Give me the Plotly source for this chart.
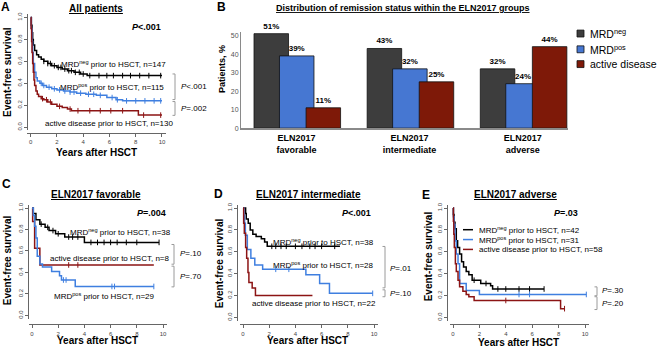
import plotly.graph_objects as go

W, H = 659, 350
FONT = "Liberation Sans, Arial, sans-serif"
C_NEG = "#000000"
C_POS = "#3f7fe0"
C_ACT = "#8c1414"
BAR_NEG = "#3d3d3d"
BAR_POS = "#4677d2"
BAR_ACT = "#7e1908"

# ---------------- data ----------------
# Panel A: all patients
A_neg_t = [0, 0.05, 0.1, 0.15, 0.2, 0.3, 0.45, 0.6, 0.8, 1.0, 1.3, 1.6, 2.0, 2.4, 2.8, 3.3, 3.8, 4.3, 10.0]
A_neg_s = [1.0, 0.93, 0.86, 0.80, 0.75, 0.70, 0.66, 0.64, 0.62, 0.60, 0.58, 0.56, 0.545, 0.53, 0.515, 0.50, 0.485, 0.47, 0.47]
A_neg_c = [1.0, 1.3, 1.5, 1.8, 2.1, 2.3, 2.6, 2.9, 3.1, 3.4, 3.7, 4.0, 4.5, 5.2, 5.8, 6.3, 7.0, 7.6, 8.3, 9.0, 9.9]
A_pos_t = [0, 0.05, 0.1, 0.15, 0.2, 0.3, 0.4, 0.5, 0.7, 0.9, 1.2, 1.6, 2.0, 2.5, 3.0, 3.5, 4.2, 5.0, 5.8, 6.5, 7.0, 10.0]
A_pos_s = [1.0, 0.90, 0.78, 0.68, 0.58, 0.50, 0.45, 0.42, 0.40, 0.38, 0.365, 0.35, 0.34, 0.33, 0.32, 0.31, 0.30, 0.29, 0.27, 0.25, 0.24, 0.24]
A_pos_c = [0.8, 1.0, 1.4, 1.8, 2.2, 2.6, 3.0, 3.3, 3.8, 4.4, 4.8, 5.3, 6.2, 6.6, 7.3, 8.0, 8.7, 9.4, 9.9]
A_act_t = [0, 0.03, 0.07, 0.1, 0.15, 0.2, 0.25, 0.3, 0.4, 0.5, 0.6, 0.8, 1.0, 1.3, 1.6, 2.0, 2.4, 2.8, 3.1, 8.2, 10.0]
A_act_s = [1.0, 0.90, 0.78, 0.68, 0.58, 0.50, 0.43, 0.38, 0.33, 0.30, 0.28, 0.26, 0.25, 0.23, 0.21, 0.19, 0.18, 0.165, 0.15, 0.11, 0.11]
A_act_c = [0.9, 1.2, 1.5, 2.2, 3.0, 3.6, 4.5, 5.3, 6.1, 7.0, 8.6, 9.9]

# Panel B: distribution of remission status
B_categories = ["ELN2017<br>favorable", "ELN2017<br>intermediate", "ELN2017<br>adverse"]
B_mrd_neg = [51, 43, 32]
B_mrd_pos = [39, 32, 24]
B_active = [11, 25, 44]
B_yticks = [0, 10, 20, 30, 40, 50]

# Panel C: ELN2017 favorable
C_neg_t = [0, 0.1, 0.3, 0.6, 1.0, 1.3, 1.8, 2.5, 4.0, 9.7]
C_neg_s = [1.0, 0.95, 0.89, 0.85, 0.82, 0.79, 0.76, 0.73, 0.68, 0.68]
C_neg_c = [0.7, 1.2, 1.6, 2.0, 2.8, 3.1, 3.5, 4.5, 5.0, 5.5, 6.0, 6.5, 7.2, 8.0, 9.7]
C_act_t = [0, 0.05, 0.2, 0.6, 9.3]
C_act_s = [1.0, 0.875, 0.625, 0.47, 0.47]
C_act_c = [2.8, 3.5]
C_pos_t = [0, 0.1, 0.2, 0.3, 0.4, 0.6, 0.8, 1.5, 2.1, 2.25, 3.3, 9.3]
C_pos_s = [1.0, 0.93, 0.83, 0.72, 0.55, 0.48, 0.45, 0.41, 0.37, 0.33, 0.27, 0.27]
C_pos_c = [2.4, 2.6, 6.1, 6.3, 9.3]

# Panel D: ELN2017 intermediate
D_neg_t = [0, 0.2, 0.25, 0.4, 0.55, 0.75, 1.0, 1.4, 1.65, 1.85, 7.4]
D_neg_s = [1.0, 0.95, 0.90, 0.86, 0.80, 0.76, 0.74, 0.72, 0.69, 0.65, 0.65]
D_neg_c = [2.2, 2.5, 2.9, 3.3, 4.0, 4.5, 5.1, 5.5, 6.0, 7.0]
D_pos_t = [0, 0.08, 0.12, 0.18, 0.33, 0.6, 0.9, 1.5, 4.8, 5.85, 6.6, 9.9]
D_pos_s = [1.0, 0.93, 0.86, 0.75, 0.62, 0.54, 0.48, 0.44, 0.39, 0.31, 0.22, 0.22]
D_pos_c = [2.5, 3.5, 9.9]
D_act_t = [0, 0.05, 0.1, 0.2, 0.28, 0.38, 0.45, 0.7, 0.95, 5.3]
D_act_s = [1.0, 0.86, 0.77, 0.64, 0.54, 0.41, 0.32, 0.27, 0.20, 0.20]
D_act_c = []

# Panel E: ELN2017 adverse
E_neg_t = [0, 0.03, 0.08, 0.15, 0.25, 0.35, 0.5, 0.65, 0.8, 1.0, 1.2, 1.45, 2.1, 2.85, 3.0, 6.9]
E_neg_s = [1.0, 0.94, 0.87, 0.81, 0.70, 0.64, 0.58, 0.51, 0.46, 0.42, 0.39, 0.34, 0.31, 0.29, 0.26, 0.26]
E_neg_c = [1.6, 2.5, 3.4, 4.0, 5.0, 5.8, 6.9]
E_pos_t = [0, 0.03, 0.08, 0.15, 0.25, 0.38, 0.5, 1.0, 2.0, 10.1]
E_pos_s = [1.0, 0.92, 0.85, 0.70, 0.58, 0.49, 0.31, 0.245, 0.21, 0.21]
E_pos_c = [5.0, 5.8, 10.1]
E_act_t = [0, 0.03, 0.06, 0.1, 0.18, 0.25, 0.38, 0.5, 0.75, 1.0, 1.2, 1.6, 8.15, 8.45]
E_act_s = [1.0, 0.88, 0.76, 0.64, 0.49, 0.42, 0.34, 0.28, 0.24, 0.21, 0.19, 0.155, 0.08, 0.08]
E_act_c = [4.0, 8.45]

KM_xticks = [0, 2, 4, 6, 8, 10]
KM_yticks = [0.0, 0.2, 0.4, 0.6, 0.8, 1.0]
KM_yticklabels = ["0.0", "0.2", "0.4", "0.6", "0.8", "1.0"]


# ---------------- helpers ----------------
def fx(p):
    return p / W


def fy(p):
    return 1 - p / H


def step_at(t, s, v):
    val = s[0]
    for ti, si in zip(t, s):
        if ti <= v:
            val = si
    return val


fig = go.Figure()
layout = {}
annotations = []
shapes = []


def ann(x, y, text, size=8, xanchor="center", color="#000", textangle=0):
    annotations.append(dict(x=fx(x), y=fy(y), xref="paper", yref="paper", text=text,
                            showarrow=False, xanchor=xanchor, yanchor="middle",
                            textangle=textangle,
                            font=dict(size=size, color=color, family=FONT)))


def bracket(x, y_top, y_bot, w=2.5):
    shapes.append(dict(type="path", xref="paper", yref="paper",
                       path=f"M {fx(x-w)},{fy(y_top)} L {fx(x)},{fy(y_top)} L {fx(x)},{fy(y_bot)} L {fx(x-w)},{fy(y_bot)}",
                       line=dict(color="#9a9a9a", width=1)))


def km_panel(n, x0, x10, y0, y1, xline, yline, curves):
    xr = [-0.25, 10.3]
    yr = [-0.03, 1.03]
    sx = (x10 - x0) / 10.0
    sy = (y0 - y1)
    xa, xb = x0 + xr[0] * sx, x0 + xr[1] * sx
    ya, yb = y0 - yr[0] * sy, y0 - yr[1] * sy
    sfx = "" if n == 1 else str(n)
    layout["xaxis" + sfx] = dict(domain=[fx(xa), fx(xb)], range=xr, anchor="free", position=fy(xline),
                                 tickvals=KM_xticks, ticks="outside", ticklen=3, tickwidth=1,
                                 tickcolor="#666", showline=True, linecolor="#666", linewidth=1,
                                 showgrid=False, zeroline=False,
                                 tickfont=dict(size=6, color="#444", family=FONT))
    layout["yaxis" + sfx] = dict(domain=[fy(ya), fy(yb)], range=yr, anchor="free", position=fx(yline),
                                 tickvals=KM_yticks, ticktext=KM_yticklabels, ticks="outside",
                                 ticklen=3, tickwidth=1, tickcolor="#666", showline=True,
                                 linecolor="#666", linewidth=1, showgrid=False, zeroline=False,
                                 tickangle=-90, tickfont=dict(size=6, color="#444", family=FONT))
    for t, s, c, col in curves:
        fig.add_trace(go.Scatter(x=t, y=s, mode="lines", line=dict(shape="hv", color=col, width=1.5),
                                 xaxis="x" + sfx, yaxis="y" + sfx, showlegend=False, hoverinfo="skip"))
        if c:
            fig.add_trace(go.Scatter(x=c, y=[step_at(t, s, v) for v in c], mode="markers",
                                     marker=dict(symbol="line-ns-open", size=4, color=col,
                                                 line=dict(width=1, color=col)),
                                     xaxis="x" + sfx, yaxis="y" + sfx, showlegend=False,
                                     hoverinfo="skip", cliponaxis=False))


# ---------------- Panel A ----------------
km_panel(1, 30.7, 162, 127, 15.7, 133, 27,
         [(A_neg_t, A_neg_s, A_neg_c, C_NEG), (A_pos_t, A_pos_s, A_pos_c, C_POS),
          (A_act_t, A_act_s, A_act_c, C_ACT)])
ann(5, 5, "<b>A</b>", 12)
ann(96, 7, "<b><u>All patients</u></b>", 10)
ann(146, 25, "<b><i>P</i>&lt;.001</b>", 9)
ann(59, 63, "MRD<sup>neg</sup> prior to HSCT, n=147", 8, "left")
ann(58, 86, "MRD<sup>pos</sup> prior to HSCT, n=115", 8, "left")
ann(43, 123, "active disease prior to HSCT, n=130", 8, "left")
bracket(175, 73, 99)
bracket(175, 101, 115)
ann(179, 86, "<i>P</i>&lt;.001", 8, "left")
ann(179, 108, "<i>P</i>=.002", 8, "left")
ann(8, 71, "<b>Event-free survival</b>", 10, textangle=-90)
ann(96, 153, "<b>Years after HSCT</b>", 10)

# ---------------- Panel B ----------------
bx0, bx1 = 241, 568
by0 = 128
ppu = 1.88
b_range_y = [0, 52]
layout["xaxis2"] = dict(domain=[fx(bx0), fx(bx1)], range=[-0.49, 2.40], type="category",
                        anchor="y2", showline=True, linecolor="#8a8a8a", linewidth=2,
                        ticks="", showgrid=False, zeroline=False,
                        tickfont=dict(size=9, color="#000", family=FONT, weight="bold"))
layout["yaxis2"] = dict(domain=[fy(by0), fy(by0 - b_range_y[1] * ppu)], range=b_range_y,
                        anchor="x2", showline=True, linecolor="#8a8a8a", linewidth=1,
                        tickvals=B_yticks, ticks="", showgrid=False, zeroline=False,
                        tickfont=dict(size=7, color="#555", family=FONT))
bw = 0.305
for vals, col, off in [(B_mrd_neg, BAR_NEG, -0.375), (B_mrd_pos, BAR_POS, -0.15), (B_active, BAR_ACT, 0.085)]:
    fig.add_trace(go.Bar(x=B_categories, y=vals, width=bw, offset=off, marker=dict(color=col, line=dict(color="#111", width=0.8)),
                         text=[f"<b>{v}%</b>" for v in vals], textposition="outside", cliponaxis=False,
                         textfont=dict(size=8, color="#000", family=FONT),
                         xaxis="x2", yaxis="y2", showlegend=False, hoverinfo="skip"))
ann(221, 5, "<b>B</b>", 12)
ann(403, 6, "<b><u>Distribution of remission status within the ELN2017 groups</u></b>", 9)
ann(222, 68, "<b>Patients, %</b>", 9, textangle=-90)
for yy, col, lab in [(32, BAR_NEG, "MRD<sup>neg</sup>"), (48, BAR_POS, "MRD<sup>pos</sup>"), (63, BAR_ACT, "active disease")]:
    shapes.append(dict(type="rect", xref="paper", yref="paper", x0=fx(577), x1=fx(584), y0=fy(yy + 3.5),
                       y1=fy(yy - 3.5), fillcolor=col, line=dict(color="#111", width=0.8)))
    ann(588, yy, lab, 10.5, "left")

# ---------------- Panel C ----------------
km_panel(3, 32, 163, 318, 209, 327, 28,
         [(C_neg_t, C_neg_s, C_neg_c, C_NEG), (C_act_t, C_act_s, C_act_c, C_ACT),
          (C_pos_t, C_pos_s, C_pos_c, C_POS)])
ann(6, 185, "<b>C</b>", 12)
ann(96, 195, "<b><u>ELN2017 favorable</u></b>", 10)
ann(151, 214, "<b><i>P</i>=.004</b>", 9)
ann(68, 233, "MRD<sup>neg</sup> prior to HSCT, n=38", 8, "left")
ann(48, 260, "active disease prior to HSCT, n=8", 8, "left")
ann(52, 298, "MRD<sup>pos</sup> prior to HSCT, n=29", 8, "left")
bracket(174, 246, 266)
bracket(174, 268, 289)
ann(178, 255, "<i>P</i>=.10", 8, "left")
ann(178, 278, "<i>P</i>=.70", 8, "left")
ann(7, 262, "<b>Event-free survival</b>", 10, textangle=-90)
ann(97, 343, "<b>Years after HSCT</b>", 10)

# ---------------- Panel D ----------------
km_panel(4, 243, 374, 320, 209, 327, 237,
         [(D_neg_t, D_neg_s, D_neg_c, C_NEG), (D_pos_t, D_pos_s, D_pos_c, C_POS),
          (D_act_t, D_act_s, D_act_c, C_ACT)])
ann(218, 195, "<b>D</b>", 12)
ann(308, 195, "<b><u>ELN2017 intermediate</u></b>", 10)
ann(357, 214, "<b><i>P</i>&lt;.001</b>", 9)
ann(271, 243, "MRD<sup>neg</sup> prior to HSCT, n=38", 8, "left")
ann(271, 267, "MRD<sup>pos</sup> prior to HSCT, n=28", 8, "left")
ann(250, 306, "active disease prior to HSCT, n=22", 8, "left")
bracket(385, 248, 290)
bracket(385, 292, 299)
ann(388, 270, "<i>P</i>=.01", 8, "left")
ann(388, 296, "<i>P</i>=.10", 8, "left")
ann(219, 265, "<b>Event-free survival</b>", 10, textangle=-90)
ann(307, 343, "<b>Years after HSCT</b>", 10)

# ---------------- Panel E ----------------
km_panel(5, 453, 585, 320, 209, 327, 447,
         [(E_neg_t, E_neg_s, E_neg_c, C_NEG), (E_pos_t, E_pos_s, E_pos_c, C_POS),
          (E_act_t, E_act_s, E_act_c, C_ACT)])
ann(426, 196, "<b>E</b>", 12)
ann(515, 195, "<b><u>ELN2017 adverse</u></b>", 10)
ann(566, 214, "<b><i>P</i>=.03</b>", 9)
for yy, col, lab in [(231, C_NEG, "MRD<sup>neg</sup> prior to HSCT, n=42"),
                     (241, C_POS, "MRD<sup>pos</sup> prior to HSCT, n=31"),
                     (251, C_ACT, "active disease prior to HSCT, n=58")]:
    shapes.append(dict(type="line", xref="paper", yref="paper", x0=fx(463), x1=fx(473), y0=fy(yy), y1=fy(yy),
                       line=dict(color=col, width=1.5)))
    ann(477, yy, lab, 8, "left")
bracket(597, 289, 298)
bracket(597, 299, 312)
ann(600, 293, "<i>P</i>=.30", 8, "left")
ann(600, 306, "<i>P</i>=.20", 8, "left")
ann(428, 258, "<b>Event-free survival</b>", 10, textangle=-90)
ann(518, 345, "<b>Years after HSCT</b>", 10)

fig.update_layout(width=W, height=H, margin=dict(l=0, r=0, t=0, b=0),
                  paper_bgcolor="white", plot_bgcolor="white", barmode="overlay",
                  font=dict(family=FONT, color="#000"),
                  annotations=annotations, shapes=shapes, **layout)

fig.write_html("out.html", config={"displayModeBar": False},
               post_script="document.body.style.margin='0';document.body.style.padding='0';")
